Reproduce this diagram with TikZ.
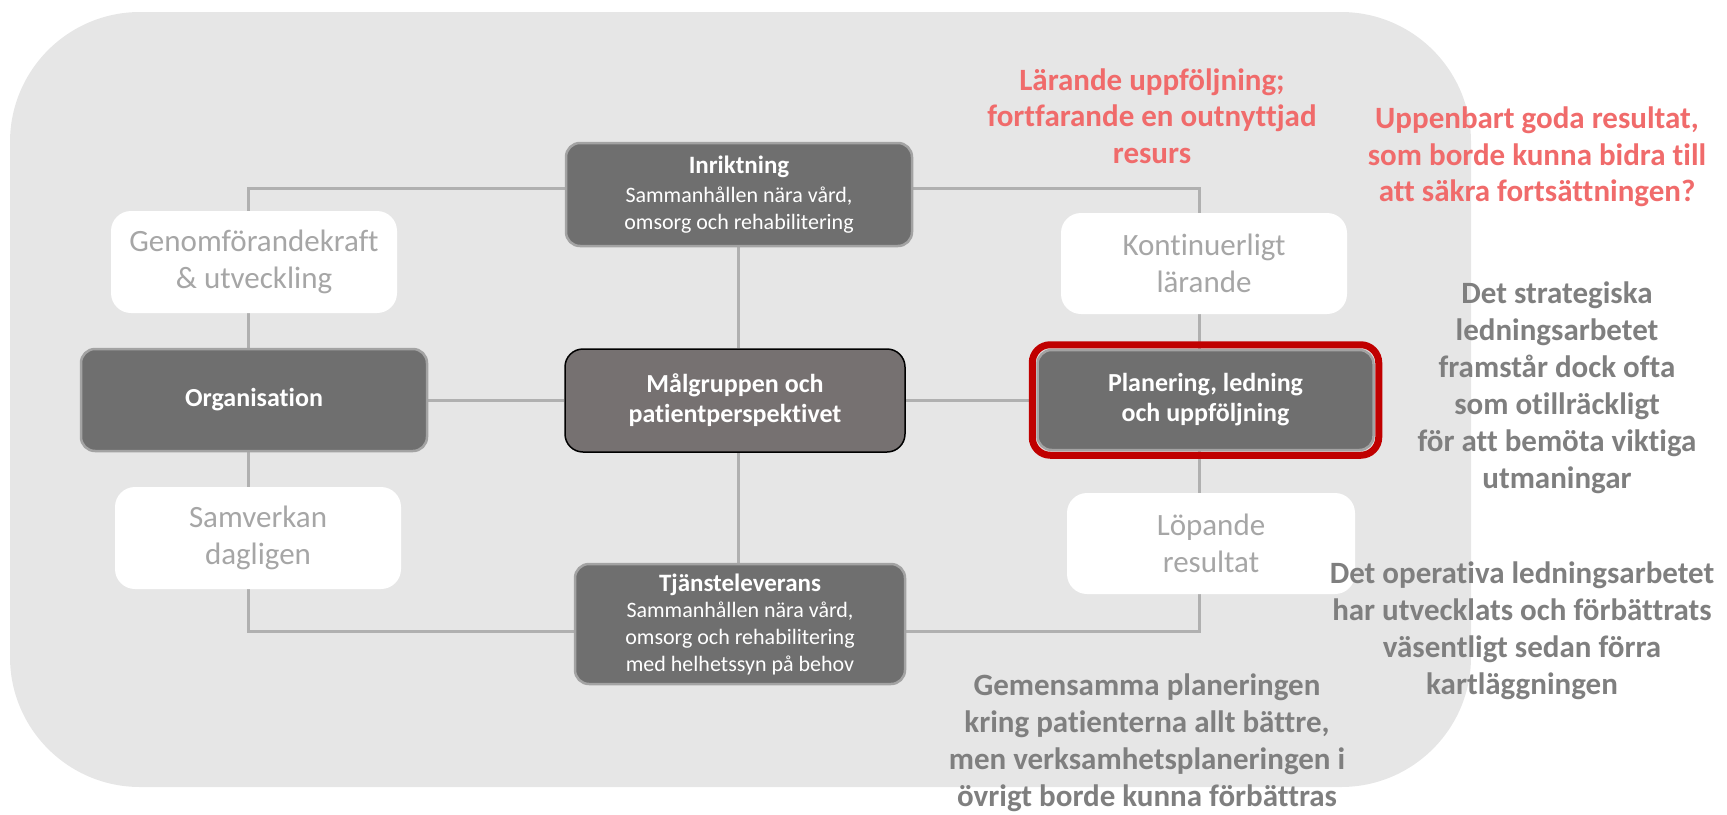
\documentclass[tikz,border=0pt]{standalone}
\usepackage{fontspec}
\setmainfont{Carlito}[Ligatures=NoCommon]
\usetikzlibrary{backgrounds}

\definecolor{panel}{HTML}{E6E6E6}
\definecolor{boxgray}{HTML}{6F6F6F}
\definecolor{edgegray}{HTML}{A3A3A3}
\definecolor{linkgray}{HTML}{B0B0B0}
\definecolor{focusfill}{HTML}{767171}
\definecolor{framered}{HTML}{C00000}
\definecolor{lighttext}{HTML}{A6A6A6}
\definecolor{rednote}{HTML}{F06B6B}
\definecolor{graynote}{HTML}{7F7F7F}

\tikzset{
  darkbox/.style={rectangle, rounded corners=14pt, fill=boxgray, draw=edgegray,
    line width=2.5pt, text=white, align=center, inner sep=0pt},
  lightbox/.style={rectangle, rounded corners=20pt, fill=white, text=lighttext,
    align=center, inner sep=0pt, font=\fontsize{31}{37}\selectfont},
  titlefont/.style={font=\bfseries\fontsize{26}{30}\selectfont},
  subfont/.style={font=\fontsize{22}{27}\selectfont},
  link/.style={draw=linkgray, line width=3pt},
  redframe/.style={draw=framered, line width=7pt, rounded corners=18pt},
  rednotestyle/.style={text=rednote, font=\bfseries\fontsize{31}{36.5}\selectfont, align=center},
  graynotestyle/.style={text=graynote, font=\bfseries\fontsize{31}{37}\selectfont, align=center}
}

\begin{document}
\begin{tikzpicture}[x=1pt, y=-1pt]
\useasboundingbox (0,0) rectangle (1727,814);

% column guides for the connectors
\coordinate (lc) at (248,0);
\coordinate (mc) at (738,0);
\coordinate (rc) at (1199,0);
\coordinate (toprow) at (0,188);
\coordinate (botrow) at (0,631);

% central row
\node[darkbox, titlefont, minimum width=346pt, minimum height=102pt] (org) at (254,400) {Organisation};
\node[darkbox, titlefont, fill=focusfill, draw=black, line width=1.5pt,
      rounded corners=18pt, minimum width=340pt, minimum height=103pt] (mal) at (735,400.5)
      {Målgruppen och\\patientperspektivet};
\node[darkbox, titlefont, minimum width=336pt, minimum height=100pt] (pla) at (1205.5,400)
      {Planering, ledning\\och uppföljning};
\draw[redframe] ([xshift=-4pt,yshift=4pt]pla.north west) rectangle ([xshift=4pt,yshift=-4pt]pla.south east);

% top and bottom boxes
\node[darkbox, subfont, minimum width=346pt, minimum height=103pt] (inr) at (739,194.5)
      {{\bfseries\fontsize{25}{30}\selectfont Inriktning}\\[2pt]Sammanhållen  nära vård,\\omsorg och rehabilitering};
\node[darkbox, subfont, minimum width=330pt, minimum height=120pt] (tja) at (740,624)
      {{\bfseries\fontsize{25}{30}\selectfont Tjänsteleverans}\\[-1pt]Sammanhållen  nära vård,\\omsorg och rehabilitering\\med helhetssyn på behov};

% light boxes
\node[lightbox, minimum width=286pt, minimum height=102pt] (gen) at (254,262) {Genomförandekraft\\\& utveckling};
\node[lightbox, minimum width=286pt, minimum height=102pt] (sam) at (258,538) {Samverkan\\dagligen};
\node[lightbox, minimum width=286pt, minimum height=101pt] (kon) at (1204,263.5) {Kontinuerligt\\lärande};
\node[lightbox, minimum width=288pt, minimum height=101pt] (lop) at (1211,543.5) {Löpande\\resultat};

% annotations
\node[rednotestyle] (n1) at (1152,116) {Lärande uppföljning;\\fortfarande en outnyttjad\\resurs};
\node[rednotestyle] (n2) at (1537,157) {Uppenbart goda resultat,\\som borde kunna bidra till\\att säkra fortsättningen?};
\node[graynotestyle] (n3) at (1557,388) {Det strategiska\\ledningsarbetet\\framstår dock ofta\\som otillräckligt\\för att bemöta viktiga\\utmaningar};
\node[graynotestyle] (n4) at (1522,631) {Det operativa ledningsarbetet\\har utvecklats och förbättrats\\väsentligt sedan förra\\kartläggningen};
\node[graynotestyle] (n5) at (1147,743) {Gemensamma planeringen\\kring patienterna allt bättre,\\men verksamhetsplaneringen i\\övrigt borde kunna förbättras};

\begin{scope}[on background layer]
  \fill[panel, rounded corners=130pt] (10,12) rectangle (1471,787);
  % upper loop
  \draw[link] (inr.west |- toprow) -| (lc |- gen.north);
  \draw[link] (inr.east |- toprow) -| (rc |- kon.north);
  \draw[link] (lc |- gen.south) -- (lc |- org.north);
  \draw[link] (rc |- kon.south) -- (rc |- pla.north);
  % spokes of the centre
  \draw[link] (mc |- inr.south) -- (mc |- mal.north);
  \draw[link] (mc |- mal.south) -- (mc |- tja.north);
  \draw[link] (org.east) -- (org.east -| mal.west);
  \draw[link] (mal.east) -- (mal.east -| pla.west);
  % lower loop
  \draw[link] (lc |- org.south) -- (lc |- sam.north);
  \draw[link] (rc |- pla.south) -- (rc |- lop.north);
  \draw[link] (lc |- sam.south) |- (tja.west |- botrow);
  \draw[link] (rc |- lop.south) |- (tja.east |- botrow);
\end{scope}
\end{tikzpicture}
\end{document}
